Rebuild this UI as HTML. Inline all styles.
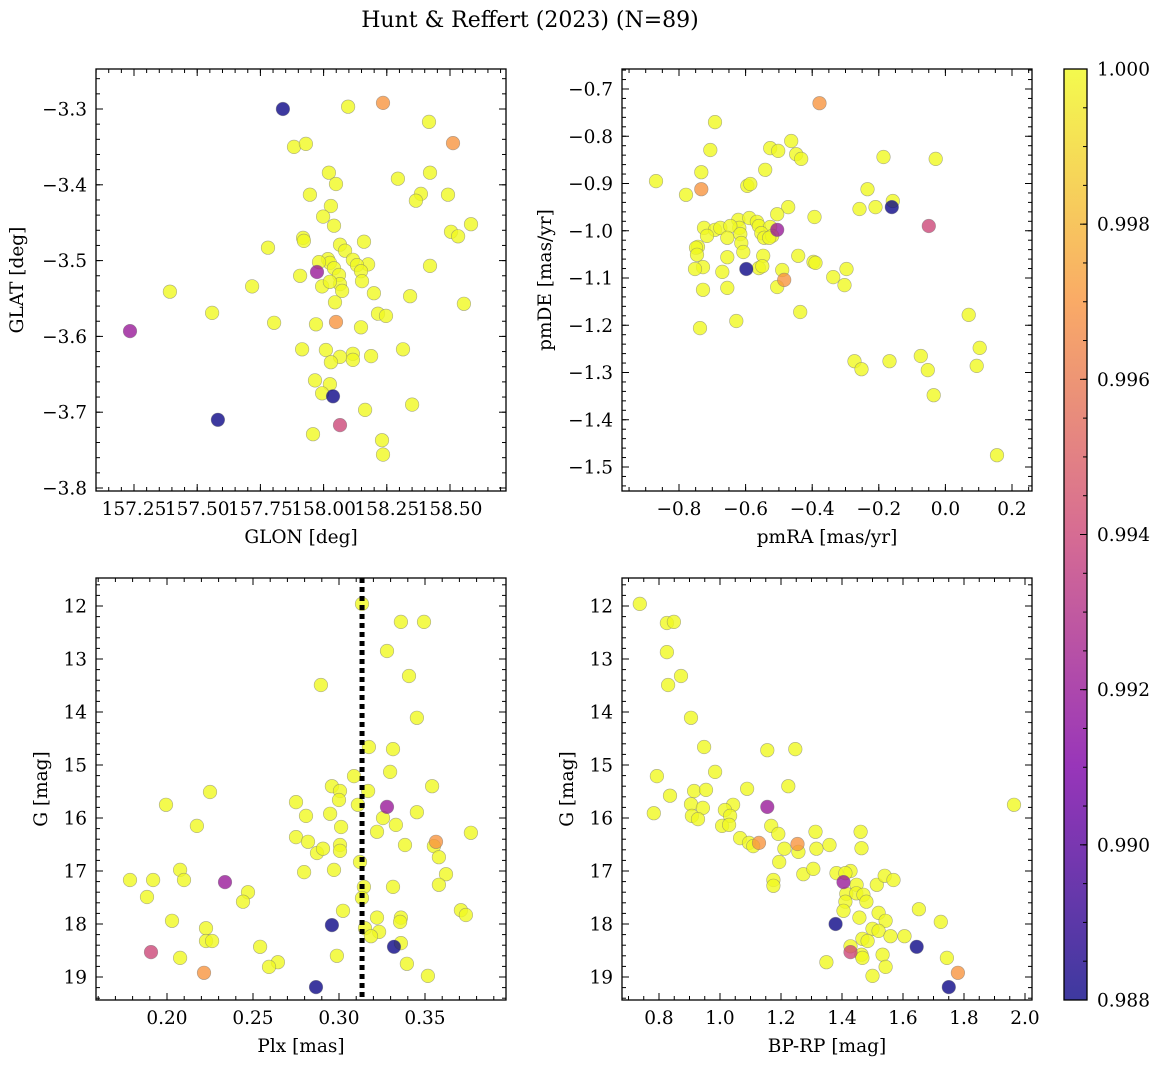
<!DOCTYPE html>
<html><head><meta charset="utf-8"><style>
html,body{margin:0;padding:0;background:#fff;}
svg{display:block;font-family:"DejaVu Serif","Liberation Serif",serif;}
</style></head><body>
<svg id="fig" width="1161" height="1068" viewBox="0 0 1161 1068" xmlns="http://www.w3.org/2000/svg">
<text x="530" y="27" font-size="22" text-anchor="middle">Hunt &amp; Reffert (2023) (N=89)</text>
</svg>
<script>
// ---------- Panel 1: GLON vs GLAT ----------
const p1Glon = [157.839,158.235,158.097,158.417,158.512,157.883,157.930,158.021,158.294,158.421,158.049,157.946,158.385,158.492,158.365,158.029,157.998,158.041,158.583,158.504,158.532,157.919,157.922,158.160,158.065,157.780,158.085,158.017,158.025,157.982,158.116,158.176,158.132,158.421,158.041,157.974,158.148,157.907,158.061,157.994,158.065,158.025,158.073,158.152,157.392,157.717,158.199,158.342,158.045,158.555,158.215,158.247,157.559,158.049,157.804,157.970,157.234,158.148,157.915,158.009,158.314,158.116,158.065,158.188,158.029,158.116,157.966,158.025,157.994,158.037,157.582,158.350,158.164,157.958,158.065,158.231,158.235];
const p1Glat = [-3.300,-3.292,-3.297,-3.317,-3.345,-3.350,-3.346,-3.384,-3.392,-3.384,-3.399,-3.413,-3.412,-3.413,-3.421,-3.428,-3.442,-3.454,-3.452,-3.462,-3.468,-3.470,-3.474,-3.475,-3.479,-3.483,-3.487,-3.498,-3.503,-3.502,-3.499,-3.505,-3.506,-3.507,-3.510,-3.515,-3.514,-3.520,-3.519,-3.534,-3.531,-3.528,-3.540,-3.527,-3.541,-3.534,-3.543,-3.547,-3.555,-3.557,-3.570,-3.573,-3.569,-3.581,-3.582,-3.584,-3.593,-3.588,-3.617,-3.618,-3.617,-3.623,-3.627,-3.626,-3.634,-3.631,-3.658,-3.663,-3.675,-3.679,-3.710,-3.690,-3.697,-3.729,-3.717,-3.737,-3.756];
const p1Prob = [0.988,0.997,1,1,0.997,1,1,1,1,1,1,1,1,1,1,1,1,1,1,1,1,1,1,1,1,1,1,1,1,1,1,1,1,1,1,0.992,1,1,1,1,1,1,1,1,1,1,1,1,1,1,1,1,1,0.997,1,1,0.992,1,1,1,1,1,1,1,1,1,1,1,1,0.988,0.988,1,1,1,0.994,1,1];
const p1XTicks = [157.25,157.50,157.75,158.00,158.25,158.50];
const p1XLabels = ["157.25","157.50","157.75","158.00","158.25","158.50"];
const p1YTicks = [-3.3,-3.4,-3.5,-3.6,-3.7,-3.8];

// ---------- Panel 2: pmRA vs pmDE ----------
const p2Pmra = [-0.869,-0.692,-0.779,-0.733,-0.706,-0.526,-0.502,-0.463,-0.448,-0.433,-0.541,-0.595,-0.586,-0.733,-0.378,-0.186,-0.029,-0.234,-0.161,-0.158,-0.210,-0.258,-0.393,-0.472,-0.505,-0.050,-0.505,-0.622,-0.589,-0.566,-0.619,-0.560,-0.526,-0.725,-0.692,-0.676,-0.646,-0.716,-0.655,-0.616,-0.553,-0.544,-0.520,-0.529,-0.743,-0.749,-0.613,-0.655,-0.547,-0.607,-0.442,-0.746,-0.396,-0.390,-0.728,-0.752,-0.670,-0.598,-0.560,-0.550,-0.490,-0.297,-0.337,-0.484,-0.728,-0.655,-0.505,-0.303,-0.628,-0.436,-0.737,0.070,0.103,-0.273,-0.168,-0.074,-0.252,-0.053,0.094,-0.035,0.155];
const p2Pmde = [-0.895,-0.770,-0.924,-0.876,-0.829,-0.825,-0.831,-0.810,-0.838,-0.848,-0.871,-0.905,-0.901,-0.912,-0.730,-0.844,-0.848,-0.912,-0.950,-0.937,-0.950,-0.954,-0.971,-0.950,-0.965,-0.990,-0.998,-0.977,-0.973,-0.981,-0.994,-0.990,-0.992,-0.994,-0.998,-0.994,-0.990,-1.011,-1.015,-1.007,-1.005,-1.015,-1.011,-1.015,-1.034,-1.036,-1.026,-1.056,-1.053,-1.045,-1.053,-1.051,-1.066,-1.068,-1.077,-1.081,-1.087,-1.081,-1.079,-1.075,-1.083,-1.081,-1.098,-1.104,-1.125,-1.121,-1.119,-1.115,-1.191,-1.172,-1.206,-1.178,-1.248,-1.276,-1.276,-1.265,-1.293,-1.295,-1.286,-1.348,-1.475];
const p2Prob = [1,1,1,1,1,1,1,1,1,1,1,1,1,0.997,0.997,1,1,1,0.988,1,1,1,1,1,1,0.994,0.992,1,1,1,1,1,1,1,1,1,1,1,1,1,1,1,1,1,1,1,1,1,1,1,1,1,1,1,1,1,1,0.988,1,1,1,1,1,0.997,1,1,1,1,1,1,1,1,1,1,1,1,1,1,1,1,1];
const p2XTicks = [-0.8,-0.6,-0.4,-0.2,0.0,0.2];
const p2XLabels = ["−0.8","−0.6","−0.4","−0.2","0.0","0.2"];
const p2YTicks = [-0.7,-0.8,-0.9,-1.0,-1.1,-1.2,-1.3,-1.4,-1.5];

// ---------- Panel 3: Plx vs G ----------
const p3Plx = [0.3134,0.3360,0.3494,0.3279,0.3407,0.2895,0.3453,0.3174,0.3314,0.3087,0.3297,0.2250,0.1994,0.2174,0.2959,0.3169,0.3541,0.3006,0.3000,0.2750,0.3110,0.3279,0.3453,0.2948,0.2808,0.3256,0.3331,0.3767,0.3012,0.3221,0.2750,0.2820,0.3006,0.3564,0.3552,0.3384,0.2872,0.2907,0.3006,0.3122,0.3581,0.3622,0.2076,0.2099,0.1919,0.1785,0.2797,0.2971,0.2337,0.3581,0.3145,0.3314,0.2471,0.2442,0.1884,0.3134,0.3023,0.3709,0.3738,0.2029,0.3360,0.3221,0.2959,0.3355,0.2227,0.3151,0.3233,0.3186,0.2227,0.2262,0.3360,0.3320,0.2541,0.1907,0.2988,0.2076,0.3395,0.2645,0.2593,0.2215,0.3517,0.2866];
const p3G = [11.96,12.30,12.30,12.85,13.32,13.49,14.11,14.66,14.70,15.21,15.13,15.51,15.75,16.15,15.40,15.49,15.40,15.49,15.66,15.70,15.75,15.79,15.89,15.92,15.96,16.00,16.13,16.28,16.17,16.26,16.36,16.45,16.51,16.45,16.53,16.51,16.66,16.58,16.62,16.83,16.74,17.06,16.98,17.17,17.17,17.17,17.02,16.98,17.21,17.26,17.30,17.30,17.40,17.58,17.49,17.51,17.75,17.74,17.83,17.94,17.88,17.88,18.02,17.96,18.08,18.08,18.15,18.23,18.32,18.32,18.36,18.43,18.43,18.53,18.60,18.64,18.75,18.72,18.81,18.92,18.98,19.19];
const p3Prob = [1,1,1,1,1,1,1,1,1,1,1,1,1,1,1,1,1,1,1,1,1,0.992,1,1,1,1,1,1,1,1,1,1,1,0.997,1,1,1,1,1,1,1,1,1,1,1,1,1,1,0.992,1,1,1,1,1,1,1,1,1,1,1,1,1,0.988,1,1,1,1,1,1,1,1,0.988,1,0.994,1,1,1,1,1,0.997,1,0.988];
const p3XTicks = [0.20,0.25,0.30,0.35];
const p3XLabels = ["0.20","0.25","0.30","0.35"];
const p3PlxLine = [0.3134];
const magTicks = [12,13,14,15,16,17,18,19];

// ---------- Panel 4: BP-RP vs G ----------
const p4Bprp = [0.737,0.826,0.849,0.826,0.830,0.872,0.905,0.948,1.155,1.247,0.793,0.836,0.984,1.089,0.915,0.954,1.224,0.905,1.043,0.944,0.783,1.155,1.168,1.016,1.033,0.908,0.928,1.007,1.030,1.191,1.313,1.461,1.066,1.095,1.128,1.109,1.254,1.257,1.211,1.316,1.359,1.194,1.464,1.382,1.273,1.306,1.428,1.411,1.175,1.175,1.405,1.514,1.448,1.540,1.569,1.414,1.447,1.470,1.480,1.411,1.405,1.652,1.520,1.543,1.724,1.457,1.379,1.500,1.520,1.559,1.605,1.467,1.484,1.428,1.645,1.428,1.464,1.533,1.349,1.744,1.543,1.467,1.780,1.500,1.750,1.964];
const p4G = [11.96,12.32,12.30,12.87,13.49,13.32,14.11,14.66,14.72,14.70,15.21,15.58,15.13,15.45,15.49,15.47,15.40,15.74,15.75,15.81,15.91,15.79,16.15,15.85,15.96,15.96,16.02,16.15,16.13,16.30,16.26,16.26,16.38,16.47,16.47,16.53,16.49,16.64,16.58,16.58,16.51,16.83,16.57,17.04,17.06,16.96,17.00,17.04,17.17,17.28,17.21,17.26,17.26,17.09,17.17,17.43,17.42,17.45,17.58,17.58,17.75,17.72,17.79,17.94,17.96,17.88,18.00,18.09,18.13,18.23,18.23,18.28,18.32,18.42,18.43,18.53,18.58,18.58,18.72,18.64,18.81,18.64,18.92,18.98,19.19,15.75];
const p4Prob = [1,1,1,1,1,1,1,1,1,1,1,1,1,1,1,1,1,1,1,1,1,0.992,1,1,1,1,1,1,1,1,1,1,1,1,0.997,1,0.997,1,1,1,1,1,1,1,1,1,1,1,1,1,0.992,1,1,1,1,1,1,1,1,1,1,1,1,1,1,1,0.988,1,1,1,1,1,1,1,0.988,0.994,1,1,1,1,1,1,0.997,1,0.988,1];
const p4XTicks = [0.8,1.0,1.2,1.4,1.6,1.8,2.0];
const p4XLabels = ["0.8","1.0","1.2","1.4","1.6","1.8","2.0"];

// ---------- Colorbar ----------
const cbTicks = [0.988,0.990,0.992,0.994,0.996,0.998,1.000];
const cbMin = 0.988, cbMax = 1.000;

const FS = 18.5;
const NS = "http://www.w3.org/2000/svg";
const fig = document.getElementById('fig');
function mk(tag, attrs, parent){
  const e = document.createElementNS(NS, tag);
  for (const k in attrs) e.setAttribute(k, attrs[k]);
  (parent||fig).appendChild(e);
  return e;
}
const stops = [[13,8,135],[126,3,168],[204,71,120],[248,149,64],[240,249,33]];
function plasma(t){
  t = Math.max(0, Math.min(1, t));
  const s = t*4, i = Math.min(3, Math.floor(s)), f = s - i;
  const a = stops[i], b = stops[i+1];
  return 'rgb(' + [0,1,2].map(k => Math.round(a[k] + (b[k]-a[k])*f)).join(',') + ')';
}
function colorOf(p){ return plasma((p - cbMin)/(cbMax - cbMin)); }
function lin(d0, d1, r0, r1){ return v => r0 + (v - d0)*(r1 - r0)/(d1 - d0); }
function fmt(v, dec){ return (v < 0 ? '−' : '') + Math.abs(v).toFixed(dec); }

function panel(o){
  const g = mk('g', {});
  
  
  const L=o.box[0], T=o.box[1], R=o.box[2], B=o.box[3];
  const sx = lin(o.xr[0], o.xr[1], o.xp[0], o.xp[1]);
  const sy = lin(o.yr[0], o.yr[1], o.yp[0], o.yp[1]);
  const pg = mk('g', {}, g);
  
  
  const order = o.x.map((_, i) => i).sort((a, b) => o.c[b] - o.c[a]);
  order.forEach(i => {
    const c = mk('circle', {cx: sx(o.x[i]).toFixed(1), cy: sy(o.y[i]).toFixed(1), r: 6.8,
      fill: colorOf(o.c[i]), 'fill-opacity': 0.8, stroke: '#777', 'stroke-opacity': 0.6, 'stroke-width': 0.6}, pg);
    
    
  });
  if (o.extra) o.extra(g, sx, sy);
  const f = mk('rect', {x: L, y: T, width: R-L, height: B-T, fill: 'none', stroke: '#000', 'stroke-width': 1.3}, g);
  
  
  const tk = mk('g', {stroke: '#000', 'stroke-width': 1}, g);
  
  
  const mnx = o.xminor, mny = o.yminor;
  for (let v = Math.ceil(Math.min(...o.xr)/mnx)*mnx - 5*mnx; v <= Math.max(...o.xr)+5*mnx; v += mnx){
    const X = sx(v); if (X < L || X > R) continue;
    mk('line', {x1: X, y1: B, x2: X, y2: B-4}, tk); mk('line', {x1: X, y1: T, x2: X, y2: T+4}, tk);
  }
  for (let v = Math.ceil(Math.min(...o.yr)/mny)*mny - 5*mny; v <= Math.max(...o.yr)+5*mny; v += mny){
    const Y = sy(v); if (Y < T || Y > B) continue;
    mk('line', {x1: L, y1: Y, x2: L+4, y2: Y}, tk); mk('line', {x1: R, y1: Y, x2: R-4, y2: Y}, tk);
  }
  o.xt.forEach((v, i) => {
    const X = sx(v);
    mk('line', {x1: X, y1: B, x2: X, y2: B-7}, tk); mk('line', {x1: X, y1: T, x2: X, y2: T+7}, tk);
    const t = mk('text', {x: X, y: B+24, 'font-size': FS, 'text-anchor': 'middle'}, g);
    t.textContent = o.xl[i];
    
    
  });
  o.yt.forEach(v => {
    const Y = sy(v);
    mk('line', {x1: L, y1: Y, x2: L+7, y2: Y}, tk); mk('line', {x1: R, y1: Y, x2: R-7, y2: Y}, tk);
    const t = mk('text', {x: L-9, y: Y+6.5, 'font-size': FS, 'text-anchor': 'end'}, g);
    t.textContent = fmt(v, o.ydec);
    
    
  });
  const xt = mk('text', {x: (L+R)/2, y: B+52, 'font-size': FS, 'text-anchor': 'middle'}, g);
  xt.textContent = o.xlabel;
  
  
  const yx = o.ylx, yy = (T+B)/2;
  const yt = mk('text', {x: yx, y: yy, 'font-size': FS, 'text-anchor': 'middle', transform: 'rotate(-90 ' + yx + ' ' + yy + ')'}, g);
  yt.textContent = o.ylabel;
  
  
}

panel({name: 'panel-glon-glat', box: [96, 69, 506, 491], x: p1Glon, y: p1Glat, c: p1Prob,
  xr: [157.25, 158.50], xp: [134, 450], yr: [-3.3, -3.8], yp: [109, 488],
  xt: p1XTicks, xl: p1XLabels, yt: p1YTicks, ydec: 1, xminor: 0.05, yminor: 0.02,
  xlabel: 'GLON [deg]', ylabel: 'GLAT [deg]', ylx: 23});
panel({name: 'panel-pmra-pmde', box: [622, 69, 1032, 491], x: p2Pmra, y: p2Pmde, c: p2Prob,
  xr: [-0.8, 0.2], xp: [679, 1012], yr: [-0.7, -1.5], yp: [89, 467],
  xt: p2XTicks, xl: p2XLabels, yt: p2YTicks, ydec: 1, xminor: 0.05, yminor: 0.02,
  xlabel: 'pmRA [mas/yr]', ylabel: 'pmDE [mas/yr]', ylx: 551});
panel({name: 'panel-plx-g', box: [96, 578, 506, 1000], x: p3Plx, y: p3G, c: p3Prob,
  xr: [0.20, 0.35], xp: [167, 425], yr: [12, 19], yp: [606, 977],
  xt: p3XTicks, xl: p3XLabels, yt: magTicks, ydec: 0, xminor: 0.01, yminor: 0.2,
  xlabel: 'Plx [mas]', ylabel: 'G [mag]', ylx: 47,
  extra: (g, sx, sy) => {
    p3PlxLine.forEach(v => {
      const l = mk('line', {x1: sx(v), y1: 578, x2: sx(v), y2: 1000, stroke: '#000', 'stroke-width': 5, 'stroke-dasharray': '5,4'}, g);
      
      
    });
  }});
panel({name: 'panel-color-magnitude', box: [622, 578, 1032, 1000], x: p4Bprp, y: p4G, c: p4Prob,
  xr: [0.8, 2.0], xp: [659, 1025], yr: [12, 19], yp: [606, 977],
  xt: p4XTicks, xl: p4XLabels, yt: magTicks, ydec: 0, xminor: 0.05, yminor: 0.2,
  xlabel: 'BP-RP [mag]', ylabel: 'G [mag]', ylx: 573});

(function(){
  const L = 1064, R = 1087, T = 69, B = 1000;
  const g = mk('g', {});
  
  
  const defs = mk('defs', {}, g);
  const lg = mk('linearGradient', {id: 'cbg', x1: 0, y1: 1, x2: 0, y2: 0}, defs);
  for (let i = 0; i <= 20; i++) mk('stop', {offset: i/20, 'stop-color': plasma(i/20), 'stop-opacity': 0.8}, lg);
  const r = mk('rect', {x: L, y: T, width: R-L, height: B-T, fill: 'url(#cbg)', stroke: '#000', 'stroke-width': 1.3}, g);
  
  
  const sy = lin(cbMin, cbMax, B, T);
  for (let v = cbMin; v <= cbMax + 1e-9; v += 0.0005) mk('line', {x1: R, y1: sy(v), x2: R-4, y2: sy(v), stroke: '#000'}, g);
  cbTicks.forEach(v => {
    mk('line', {x1: R, y1: sy(v), x2: R-7, y2: sy(v), stroke: '#000'}, g);
    const t = mk('text', {x: R+10, y: sy(v)+6.5, 'font-size': FS}, g);
    t.textContent = v.toFixed(3);
    
    
  });
})();
</script>
</body></html>
